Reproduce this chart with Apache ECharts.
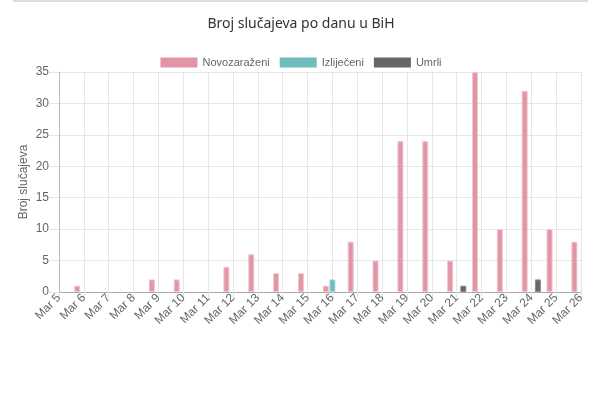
<!DOCTYPE html>
<html>
<head>
<meta charset="utf-8">
<script src="https://cdn.jsdelivr.net/npm/echarts@6/dist/echarts.min.js"></script>
<style>html,body{margin:0;padding:0;background:#fff}#c{width:602px;height:395px}</style>
</head>
<body>
<div id="c"></div>
<script>
const categories = ['Mar 5','Mar 6','Mar 7','Mar 8','Mar 9','Mar 10','Mar 11','Mar 12','Mar 13','Mar 14','Mar 15','Mar 16','Mar 17','Mar 18','Mar 19','Mar 20','Mar 21','Mar 22','Mar 23','Mar 24','Mar 25','Mar 26'];
const novozarazeni = [0,1,0,0,2,2,0,4,6,3,3,1,8,5,24,24,5,35,10,32,10,8];
const izlijeceni   = [0,0,0,0,0,0,0,0,0,0,0,2,0,0,0,0,0,0,0,0,0,0];
const umrli        = [0,0,0,0,0,0,0,0,0,0,0,0,0,0,0,0,1,0,0,2,0,0];
const seriesNames = ['Novozaraženi','Izliječeni','Umrli'];

const chart = echarts.init(document.getElementById('c'), null, {renderer:'canvas'});
const font = '"Liberation Sans", Arial, sans-serif';
function bar(name, data, fill, border) {
  return {
    name: name, type: 'bar',
    data: data.map(v => v === 0 ? '-' : v),
    barWidth: 6, barGap: '10%',
    itemStyle: {color: fill, borderColor: border, borderWidth: 1},
    emphasis: {disabled: true}
  };
}
chart.setOption({
  animation: false,
  title: {
    text: 'Broj slučajeva po danu u BiH', left: 'center', top: 12,
    textStyle: {fontFamily: '"Noto Sans", sans-serif', fontSize: 14, fontWeight: 'normal', color: '#333'}
  },
  legend: {
    top: 52, left: 'center', itemWidth: 37, itemHeight: 10, itemGap: 10, icon: 'rect',
    itemStyle: {borderWidth: 0},
    textStyle: {fontFamily: font, fontSize: 11, color: '#666'},
    data: seriesNames
  },
  graphic: [{type: 'rect', shape: {x: 13, y: 0, width: 575, height: 2}, style: {fill: '#dedede'}}],
  grid: {left: 59, right: 21, top: 72, bottom: 103},
  xAxis: {
    type: 'category', data: categories, boundaryGap: false,
    axisLine: {lineStyle: {color: '#aaa'}},
    axisTick: {show: true, length: 6, lineStyle: {color: '#e6e6e6'}, interval: 0},
    axisLabel: {interval: 0, rotate: 45, margin: 4, fontFamily: font, fontSize: 12, color: '#666'},
    splitLine: {show: true, interval: 0, lineStyle: {color: '#e6e6e6'}}
  },
  yAxis: {
    type: 'value', min: 0, max: 35, interval: 5,
    name: 'Broj slučajeva', nameLocation: 'middle', nameGap: 29, nameMoveOverlap: false,
    nameTextStyle: {fontFamily: font, fontSize: 12, color: '#666'},
    axisLine: {show: true, lineStyle: {color: '#bbb'}},
    axisTick: {show: true, length: 10, lineStyle: {color: '#e6e6e6'}},
    axisLabel: {margin: 10, fontFamily: font, fontSize: 12, color: '#666'},
    splitLine: {lineStyle: {color: '#e6e6e6'}}
  },
  series: [
    bar(seriesNames[0], novozarazeni, '#e096a6', '#f2c6cf'),
    bar(seriesNames[1], izlijeceni, '#6fbcbd', '#a8d8d8'),
    bar(seriesNames[2], umrli, '#666666', '#8a8a8a')
  ]
});
</script>
</body>
</html>
